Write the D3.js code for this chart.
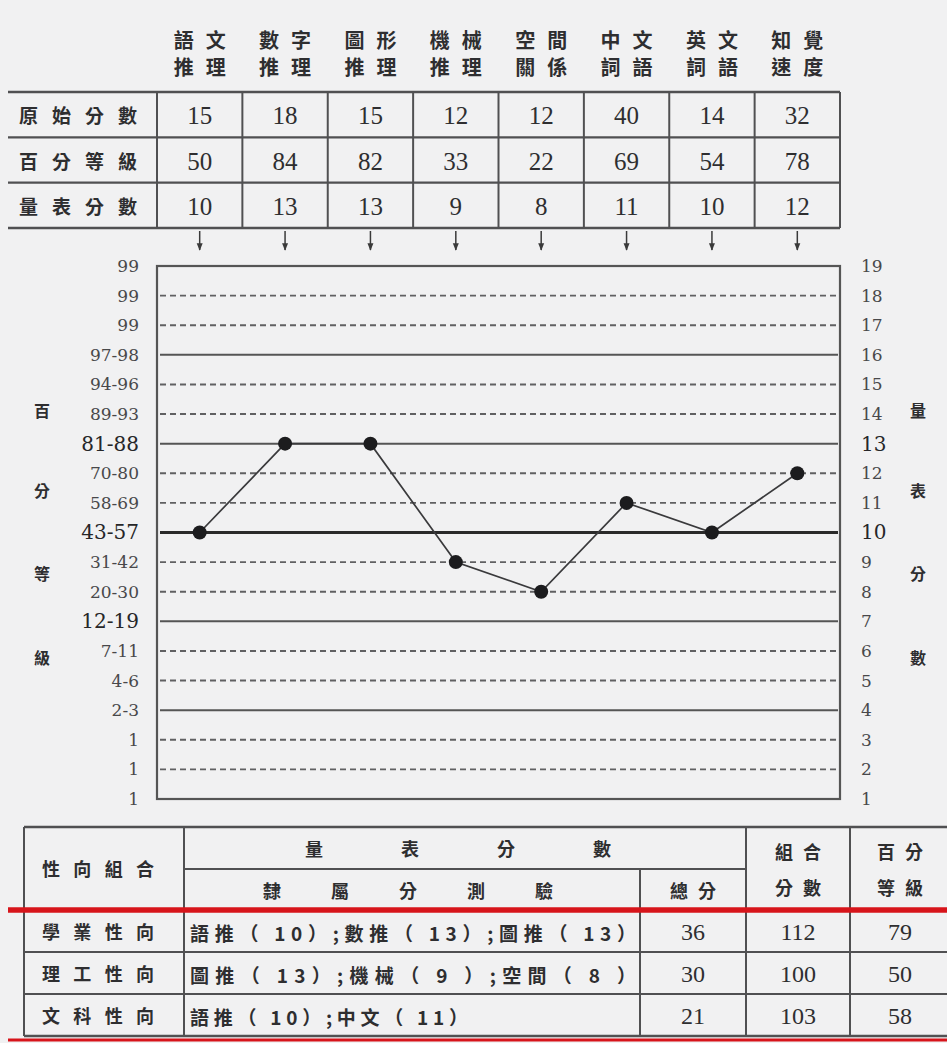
<!DOCTYPE html>
<html>
<head>
<meta charset="utf-8">
<script src="https://cdn.jsdelivr.net/npm/d3@7"></script>
<style>
html, body { margin: 0; padding: 0; background: #f1f1f2; }
svg { display: block; }
</style>
</head>
<body>
<script>
// subtests (two header lines each)
const subtests = [["語文","推理"],["數字","推理"],["圖形","推理"],["機械","推理"],
                  ["空間","關係"],["中文","詞語"],["英文","詞語"],["知覺","速度"]];
const rowLabels = ["原始分數","百分等級","量表分數"];
const rawScores = [15, 18, 15, 12, 12, 40, 14, 32];
const percentiles = [50, 84, 82, 33, 22, 69, 54, 78];
const scaleScores = [10, 13, 13, 9, 8, 11, 10, 12];

// profile axis
const scaleLevels = [1,2,3,4,5,6,7,8,9,10,11,12,13,14,15,16,17,18,19];
const pctLabels = ["1","1","1","2-3","4-6","7-11","12-19","20-30","31-42","43-57",
                   "58-69","70-80","81-88","89-93","94-96","97-98","99","99","99"];
const solidLevels = [4, 7, 10, 13, 16];
const leftTitle = ["百","分","等","級"];
const rightTitle = ["量","表","分","數"];

// aptitude combos
const groups = ["學業性向","理工性向","文科性向"];
const groupSubtests = ["語推（ 10）;數推（ 13）;圖推（ 13）",
                       "圖推（ 13）;機械（  9 ）;空間（  8 ）",
                       "語推（ 10）;中文（ 11）"];
const groupTotals = [36, 30, 21];
const groupCombined = [112, 100, 103];
const groupPct = [79, 50, 58];

var W = 947, H = 1043;
var ink = "#2e2e30", lineCol = "#505052";
var cjk = "'Noto Sans CJK TC', 'Noto Sans CJK SC', sans-serif";
var num = "'Liberation Serif', 'DejaVu Serif', serif";
var num2 = "'DejaVu Serif', serif";

var svg = d3.select("body").append("svg")
    .attr("width", W).attr("height", H);

svg.append("rect").attr("width", W).attr("height", H).attr("fill", "#f1f1f2");

var keys = subtests.map(d => d.join(""));
var x = d3.scaleBand().domain(keys).range([157, 840]);
var cx = k => x(k) + x.bandwidth() / 2;
var y = d3.scaleLinear().domain([1, 19]).range([799, 266]);

// ---- header names
var hdr = svg.append("g");
[0, 1].forEach(function (line) {
    hdr.selectAll(null).data(subtests).enter().append("text")
        .attr("x", (d, i) => cx(keys[i]))
        .attr("y", line ? 66 : 39)
        .attr("text-anchor", "middle")
        .attr("dominant-baseline", "central")
        .attr("textLength", 52).attr("lengthAdjust", "spacing")
        .style("font-family", cjk).style("font-size", "20px").style("font-weight", 700)
        .style("fill", ink)
        .text(d => d[line]);
});

// ---- top score table
var rowY = d3.scaleBand().domain(rowLabels).range([92, 228]);
var tbl = svg.append("g");
var hLines = rowLabels.map(r => rowY(r)).concat([228]);
tbl.selectAll(".hl").data(hLines).enter().append("line")
    .attr("x1", 8).attr("x2", 840)
    .attr("y1", d => d).attr("y2", d => d)
    .attr("stroke", lineCol).attr("stroke-width", 2.4);
var vLines = keys.map(k => x(k)).concat([840]);
tbl.selectAll(".vl").data(vLines).enter().append("line")
    .attr("x1", d => d).attr("x2", d => d)
    .attr("y1", 92).attr("y2", 228)
    .attr("stroke", lineCol).attr("stroke-width", 2);

tbl.selectAll(".rl").data(rowLabels).enter().append("text")
    .attr("x", 78).attr("y", d => rowY(d) + rowY.bandwidth() / 2)
    .attr("text-anchor", "middle").attr("dominant-baseline", "central")
    .attr("textLength", 118).attr("lengthAdjust", "spacing")
    .style("font-family", cjk).style("font-size", "19px").style("font-weight", 700)
    .style("fill", ink)
    .text(d => d);

[rawScores, percentiles, scaleScores].forEach(function (vals, r) {
    tbl.selectAll(null).data(vals).enter().append("text")
        .attr("x", (d, i) => cx(keys[i]))
        .attr("y", rowY(rowLabels[r]) + rowY.bandwidth() / 2 + 1)
        .attr("text-anchor", "middle").attr("dominant-baseline", "central")
        .style("font-family", num).style("font-size", "25px")
        .style("fill", ink)
        .text(d => d);
});

// arrows
svg.append("defs").append("marker")
    .attr("id", "ah").attr("viewBox", "0 0 10 10")
    .attr("refX", 9).attr("refY", 5)
    .attr("markerWidth", 5).attr("markerHeight", 5).attr("orient", "auto")
    .append("path").attr("d", "M0,1L10,5L0,9Z").attr("fill", "#3a3a3a");
svg.append("g").selectAll("line").data(keys).enter().append("line")
    .attr("x1", d => cx(d)).attr("x2", d => cx(d))
    .attr("y1", 231).attr("y2", 250)
    .attr("stroke", "#3a3a3a").attr("stroke-width", 1.5)
    .attr("marker-end", "url(#ah)");

// ---- profile chart
var chart = svg.append("g");
var inner = scaleLevels.filter(v => v > 1 && v < 19);
chart.selectAll(".grid").data(inner).enter().append("line")
    .attr("x1", 160).attr("x2", 838)
    .attr("y1", d => y(d)).attr("y2", d => y(d))
    .attr("stroke", d => d === 10 ? "#2a2a2a" : (solidLevels.includes(d) ? "#555" : "#606062"))
    .attr("stroke-width", d => d === 10 ? 3 : (solidLevels.includes(d) ? 2 : 1.9))
    .attr("stroke-dasharray", d => solidLevels.includes(d) ? null : "6,4");

chart.append("rect")
    .attr("x", 157).attr("y", y(19))
    .attr("width", 840 - 157).attr("height", y(1) - y(19))
    .attr("fill", "none").attr("stroke", "#555").attr("stroke-width", 2.2);

var big = [7, 10, 13];
var la = chart.append("g").attr("transform", "translate(157,0)")
    .call(d3.axisLeft(y).tickValues(scaleLevels)
        .tickFormat(v => pctLabels[v - 1]).tickSize(0).tickPadding(18));
la.select(".domain").remove();
la.selectAll("text")
    .style("font-family", num2)
    .style("font-size", d => big.includes(d) ? "20px" : "17px")
    .style("fill", d => big.includes(d) ? "#262628" : "#48484a");

var ra = chart.append("g").attr("transform", "translate(840,0)")
    .call(d3.axisRight(y).tickValues(scaleLevels).tickSize(0).tickPadding(21));
ra.select(".domain").remove();
ra.selectAll("text")
    .style("font-family", num2)
    .style("font-size", d => (d === 10 || d === 13) ? "20px" : "17px")
    .style("fill", d => (d === 10 || d === 13) ? "#262628" : "#48484a");

var titleY = [410, 490, 573, 657];
chart.selectAll(".lt").data(leftTitle).enter().append("text")
    .attr("x", 42).attr("y", (d, i) => titleY[i])
    .attr("text-anchor", "middle").attr("dominant-baseline", "central")
    .style("font-family", cjk).style("font-size", "16px").style("font-weight", 700)
    .style("fill", ink).text(d => d);
chart.selectAll(".rt").data(rightTitle).enter().append("text")
    .attr("x", 918).attr("y", (d, i) => titleY[i])
    .attr("text-anchor", "middle").attr("dominant-baseline", "central")
    .style("font-family", cjk).style("font-size", "16px").style("font-weight", 700)
    .style("fill", ink).text(d => d);

var lineGen = d3.line().x((d, i) => cx(keys[i])).y(d => y(d));
chart.append("path").datum(scaleScores)
    .attr("d", lineGen)
    .attr("fill", "none").attr("stroke", "#3a3a3c").attr("stroke-width", 1.7);
chart.selectAll(".pt").data(scaleScores).enter().append("circle")
    .attr("cx", (d, i) => cx(keys[i])).attr("cy", d => y(d))
    .attr("r", 7).attr("fill", "#1c1c1e");

// ---- bottom combo table
var bt = svg.append("g");
var brow = d3.scaleBand().domain(groups).range([910, 1036]);
var colX = [24, 184, 640, 746, 850];

function hline(x1, x2, yy, col, w) {
    bt.append("line").attr("x1", x1).attr("x2", x2).attr("y1", yy).attr("y2", yy)
        .attr("stroke", col).attr("stroke-width", w);
}
hline(24, W, 827, lineCol, 2.4);
hline(184, 746, 869, lineCol, 2);
groups.slice(1).forEach(g => hline(24, W, brow(g), lineCol, 2));
hline(24, W, 1036, lineCol, 2.4);

bt.selectAll(".bv").data(colX).enter().append("line")
    .attr("x1", d => d).attr("x2", d => d)
    .attr("y1", d => d === 640 ? 869 : 827).attr("y2", 1036)
    .attr("stroke", lineCol).attr("stroke-width", 2);

hline(8, W, 910, "#d7141b", 5.5);
hline(8, W, 1040, "#d7141b", 3);

function btext(t, xx, yy, opts) {
    var s = bt.append("text").attr("x", xx).attr("y", yy)
        .attr("text-anchor", opts.anchor || "middle").attr("dominant-baseline", "central")
        .style("font-family", opts.font || cjk).style("font-size", (opts.size || 18) + "px")
        .style("font-weight", opts.weight || 700).style("fill", ink).text(t);
    if (opts.len) s.attr("textLength", opts.len).attr("lengthAdjust", "spacing");
    return s;
}
btext("性向組合", 98, 868, { len: 112 });
btext("量　表　分　數", 458, 848, { len: 306 });
btext("隸　屬　分　測　驗", 408, 890, { len: 290 });
btext("總分", 693, 890, { len: 46 });
btext("組合", 798, 851, { len: 46 });
btext("分數", 798, 887, { len: 46 });
btext("百分", 900, 851, { len: 46 });
btext("等級", 900, 887, { len: 46 });

var subLen = [446, 446, 278];
groups.forEach(function (g, i) {
    var yy = brow(g) + brow.bandwidth() / 2;
    btext(g, 98, yy, { len: 112 });
    btext(groupSubtests[i], 190, yy + 1, { anchor: "start", len: subLen[i], size: 19, weight: 600 });
    btext(groupTotals[i], 693, yy + 1, { font: num, size: 24, weight: 400 });
    btext(groupCombined[i], 798, yy + 1, { font: num, size: 24, weight: 400 });
    btext(groupPct[i], 900, yy + 1, { font: num, size: 24, weight: 400 });
});
</script>
</body>
</html>
